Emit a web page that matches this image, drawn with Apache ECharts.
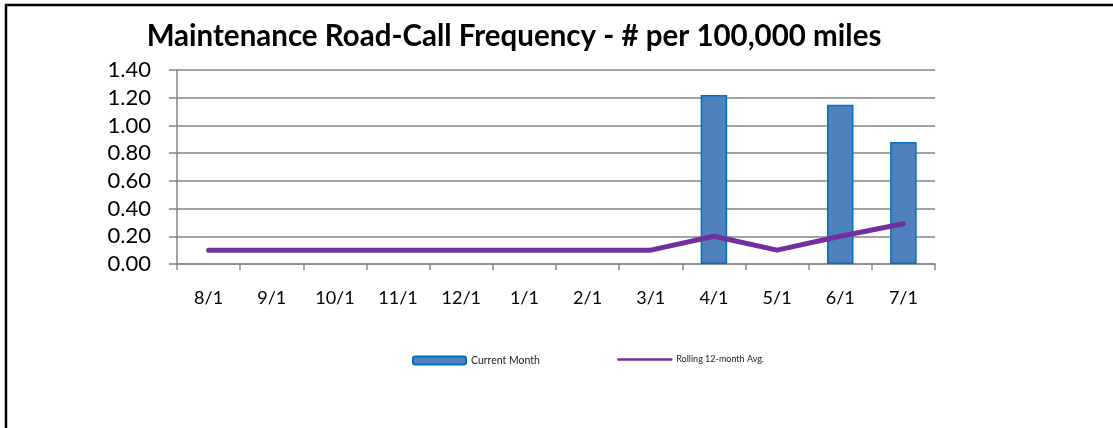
<!DOCTYPE html>
<html>
<head>
<meta charset="utf-8">
<script src="https://cdn.jsdelivr.net/npm/echarts@6/dist/echarts.min.js"></script>
<style>
html,body{margin:0;padding:0;background:#fff;}
#chart{width:1113px;height:428px;}
</style>
</head>
<body>
<div id="chart"></div>
<script>
const categories = ['8/1','9/1','10/1','11/1','12/1','1/1','2/1','3/1','4/1','5/1','6/1','7/1'];
const currentMonth = [null,null,null,null,null,null,null,null,1.22,null,1.15,0.88];
const rolling12 = [0.10,0.10,0.10,0.10,0.10,0.10,0.10,0.10,0.20,0.10,0.20,0.29];
const titleText = 'Maintenance Road-Call Frequency - # per 100,000 miles';

const chart = echarts.init(document.getElementById('chart'), null, {renderer:'canvas'});
chart.setOption({
  animation:false,
  backgroundColor:'#fff',
  graphic:[{
    type:'polyline', silent:true,
    shape:{points:[[6,430],[6,5],[1115,5]]},
    style:{stroke:'#000',lineWidth:2.5,fill:null}
  }],
  title:{
    text:titleText, left:509, top:16, textAlign:'center',
    textStyle:{fontFamily:'Lato',fontWeight:'bold',fontSize:29.5,color:'#000'}
  },
  legend:[{
    data:['Current Month'], left:412, top:355, padding:0, itemWidth:53, itemHeight:8, itemGap:5,
    textStyle:{fontFamily:'Lato',fontSize:10.5,color:'#222'}
  },{
    data:['Rolling 12-month Avg.'], left:617, top:355, padding:0, itemWidth:53, itemHeight:8, itemGap:5,
    textStyle:{fontFamily:'Lato',fontSize:9,color:'#222'},
    itemStyle:{opacity:0},
    lineStyle:{width:2.5}
  }],
  grid:{left:177,right:178,top:70,bottom:164,containLabel:false},
  xAxis:{
    type:'category', data:categories, boundaryGap:true,
    axisLine:{lineStyle:{color:'#868686',width:1.5}},
    axisTick:{show:true,length:6,lineStyle:{color:'#868686',width:1.5}},
    axisLabel:{fontFamily:'Lato',fontSize:18,color:'#000',margin:25}
  },
  yAxis:{
    type:'value', min:0, max:1.4, interval:0.2,
    axisLine:{show:true,lineStyle:{color:'#868686',width:1.5}},
    axisTick:{show:true,length:8,lineStyle:{color:'#868686',width:1.5}},
    axisLabel:{fontFamily:'Lato',fontSize:22,color:'#000',margin:26,formatter:v=>v.toFixed(2)},
    splitLine:{lineStyle:{color:'#868686',width:1.5}}
  },
  series:[{
    name:'Current Month', type:'bar', data:currentMonth, barWidth:'42%',
    itemStyle:{color:'#4F81BD',borderColor:'#0070C0',borderWidth:1.5}
  },{
    name:'Rolling 12-month Avg.', type:'line', data:rolling12, symbol:'none',
    lineStyle:{color:'#7030A0',width:5,cap:'round',join:'round'},
    itemStyle:{color:'#7030A0'}
  }]
});
</script>
</body>
</html>
